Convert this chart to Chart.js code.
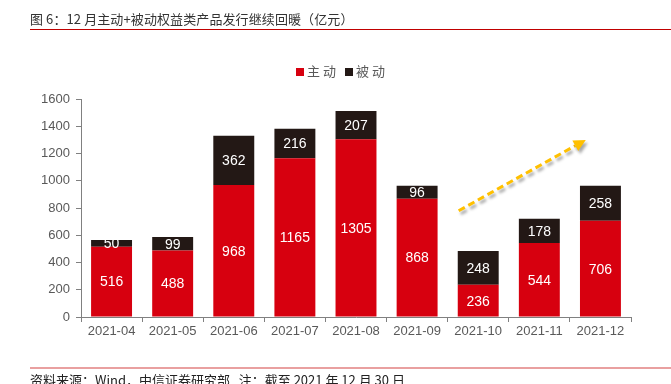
<!DOCTYPE html>
<html><head><meta charset="utf-8">
<script src="https://cdn.jsdelivr.net/npm/chart.js@4"></script>
<style>
html,body{margin:0;padding:0;background:#fff;width:671px;height:384px;overflow:hidden;}
#wrap{position:relative;width:671px;height:384px;}
#title{position:absolute;left:30px;top:9px;font:13px "Noto Sans CJK SC",sans-serif;color:#333;white-space:nowrap;letter-spacing:0.1px;}
#tline{position:absolute;left:30px;top:29px;width:641px;height:1px;background:#C00000;}
#fline{position:absolute;left:30px;top:367px;width:641px;height:2px;background:#E9A0A0;}
#foot{position:absolute;left:30px;top:370px;font:13px "Noto Sans CJK SC",sans-serif;color:#222;white-space:nowrap;}
#legend{position:absolute;left:296px;top:61px;font:13px "Noto Sans CJK SC",sans-serif;color:#595959;white-space:nowrap;letter-spacing:3px;}
#legend span.sw{display:inline-block;width:8px;height:8px;margin-right:3px;vertical-align:0px;}
canvas{position:absolute;left:0;top:0;}
</style></head>
<body><div id="wrap">
<canvas id="c" width="671" height="384"></canvas>
<div id="title">图 6：12 月主动+被动权益类产品发行继续回暖（亿元）</div>
<div id="tline"></div>
<div id="legend"><span class="sw" style="background:#D7000F"></span>主动 <span class="sw" style="background:#231815"></span>被动</div>
<div id="fline"></div>
<div id="foot">资料来源：Wind，中信证券研究部&nbsp;&nbsp;&nbsp;注：截至 2021 年 12 月 30 日</div>
</div>
<script>
const months = ['2021-04','2021-05','2021-06','2021-07','2021-08','2021-09','2021-10','2021-11','2021-12'];
const activeVals = [516,488,968,1165,1305,868,236,544,706];
const passiveVals = [50,99,362,216,207,96,248,178,258];
const yTicks = [0,200,400,600,800,1000,1200,1400,1600];
// trend arrow in data coordinates: [category index, value]
const arrowStart = [5.68, 780];
const arrowEnd = [7.76, 1300];

const labelPlugin = {
  id:'barLabels',
  afterDatasetsDraw(chart){
    const ctx = chart.ctx;
    ctx.save();
    ctx.fillStyle='#fff';
    ctx.font='14px "Liberation Sans", Arial, sans-serif';
    ctx.textAlign='center';
    ctx.textBaseline='middle';
    chart.data.datasets.forEach((ds,di)=>{
      const meta = chart.getDatasetMeta(di);
      meta.data.forEach((el,i)=>{
        ctx.fillText(String(ds.data[i]), el.x, (el.y+el.base)/2+1);
      });
    });
    ctx.restore();
  }
};
const arrowPlugin = {
  id:'arrow',
  afterDatasetsDraw(chart){
    const x = chart.scales.x, y = chart.scales.y, ctx = chart.ctx;
    const x1 = x.getPixelForValue(arrowStart[0]), y1 = y.getPixelForValue(arrowStart[1]);
    const x2 = x.getPixelForValue(arrowEnd[0]), y2 = y.getPixelForValue(arrowEnd[1]);
    const ang = Math.atan2(y2-y1, x2-x1);
    const hl = 12;
    const bx = x2 - hl*Math.cos(ang), by = y2 - hl*Math.sin(ang);
    ctx.save();
    ctx.shadowColor='rgba(0,0,0,0.35)';
    ctx.shadowBlur=3; ctx.shadowOffsetX=2; ctx.shadowOffsetY=3;
    ctx.strokeStyle='#FFC000'; ctx.lineWidth=3; ctx.setLineDash([7,4]);
    ctx.beginPath(); ctx.moveTo(x1,y1); ctx.lineTo(bx,by); ctx.stroke();
    ctx.setLineDash([]);
    ctx.fillStyle='#FFC000';
    ctx.beginPath();
    ctx.moveTo(x2,y2);
    ctx.lineTo(bx + 6*Math.sin(ang), by - 6*Math.cos(ang));
    ctx.lineTo(bx - 6*Math.sin(ang), by + 6*Math.cos(ang));
    ctx.closePath(); ctx.fill();
    ctx.restore();
  }
};

new Chart(document.getElementById('c'),{
  type:'bar',
  data:{labels:months,datasets:[
    {label:'主动',data:activeVals,backgroundColor:'#D7000F',barPercentage:0.67,categoryPercentage:1},
    {label:'被动',data:passiveVals,backgroundColor:'#231815',barPercentage:0.67,categoryPercentage:1}
  ]},
  options:{
    responsive:false,animation:false,
    layout:{padding:{left:0,right:40,top:99,bottom:0}},
    plugins:{legend:{display:false},tooltip:{enabled:false}},
    scales:{
      x:{stacked:true,
        grid:{offset:true,drawOnChartArea:false,tickLength:5,color:'#808080'},
        border:{color:'#808080'},
        ticks:{color:'#595959',font:{size:13,family:'"Liberation Sans", Arial, sans-serif'},padding:2,maxRotation:0},
        afterFit(s){s.height=67;}
      },
      y:{stacked:true,min:0,max:1600,
        afterBuildTicks(s){s.ticks=yTicks.map(v=>({value:v}));},
        grid:{drawOnChartArea:false,tickLength:5,color:'#808080'},
        border:{color:'#808080'},
        ticks:{color:'#595959',font:{size:13,family:'"Liberation Sans", Arial, sans-serif'},padding:6,callback:(v)=>String(v)},
        afterFit(s){s.width=81;}
      }
    }
  },
  plugins:[labelPlugin,arrowPlugin]
});
</script>
</body></html>
